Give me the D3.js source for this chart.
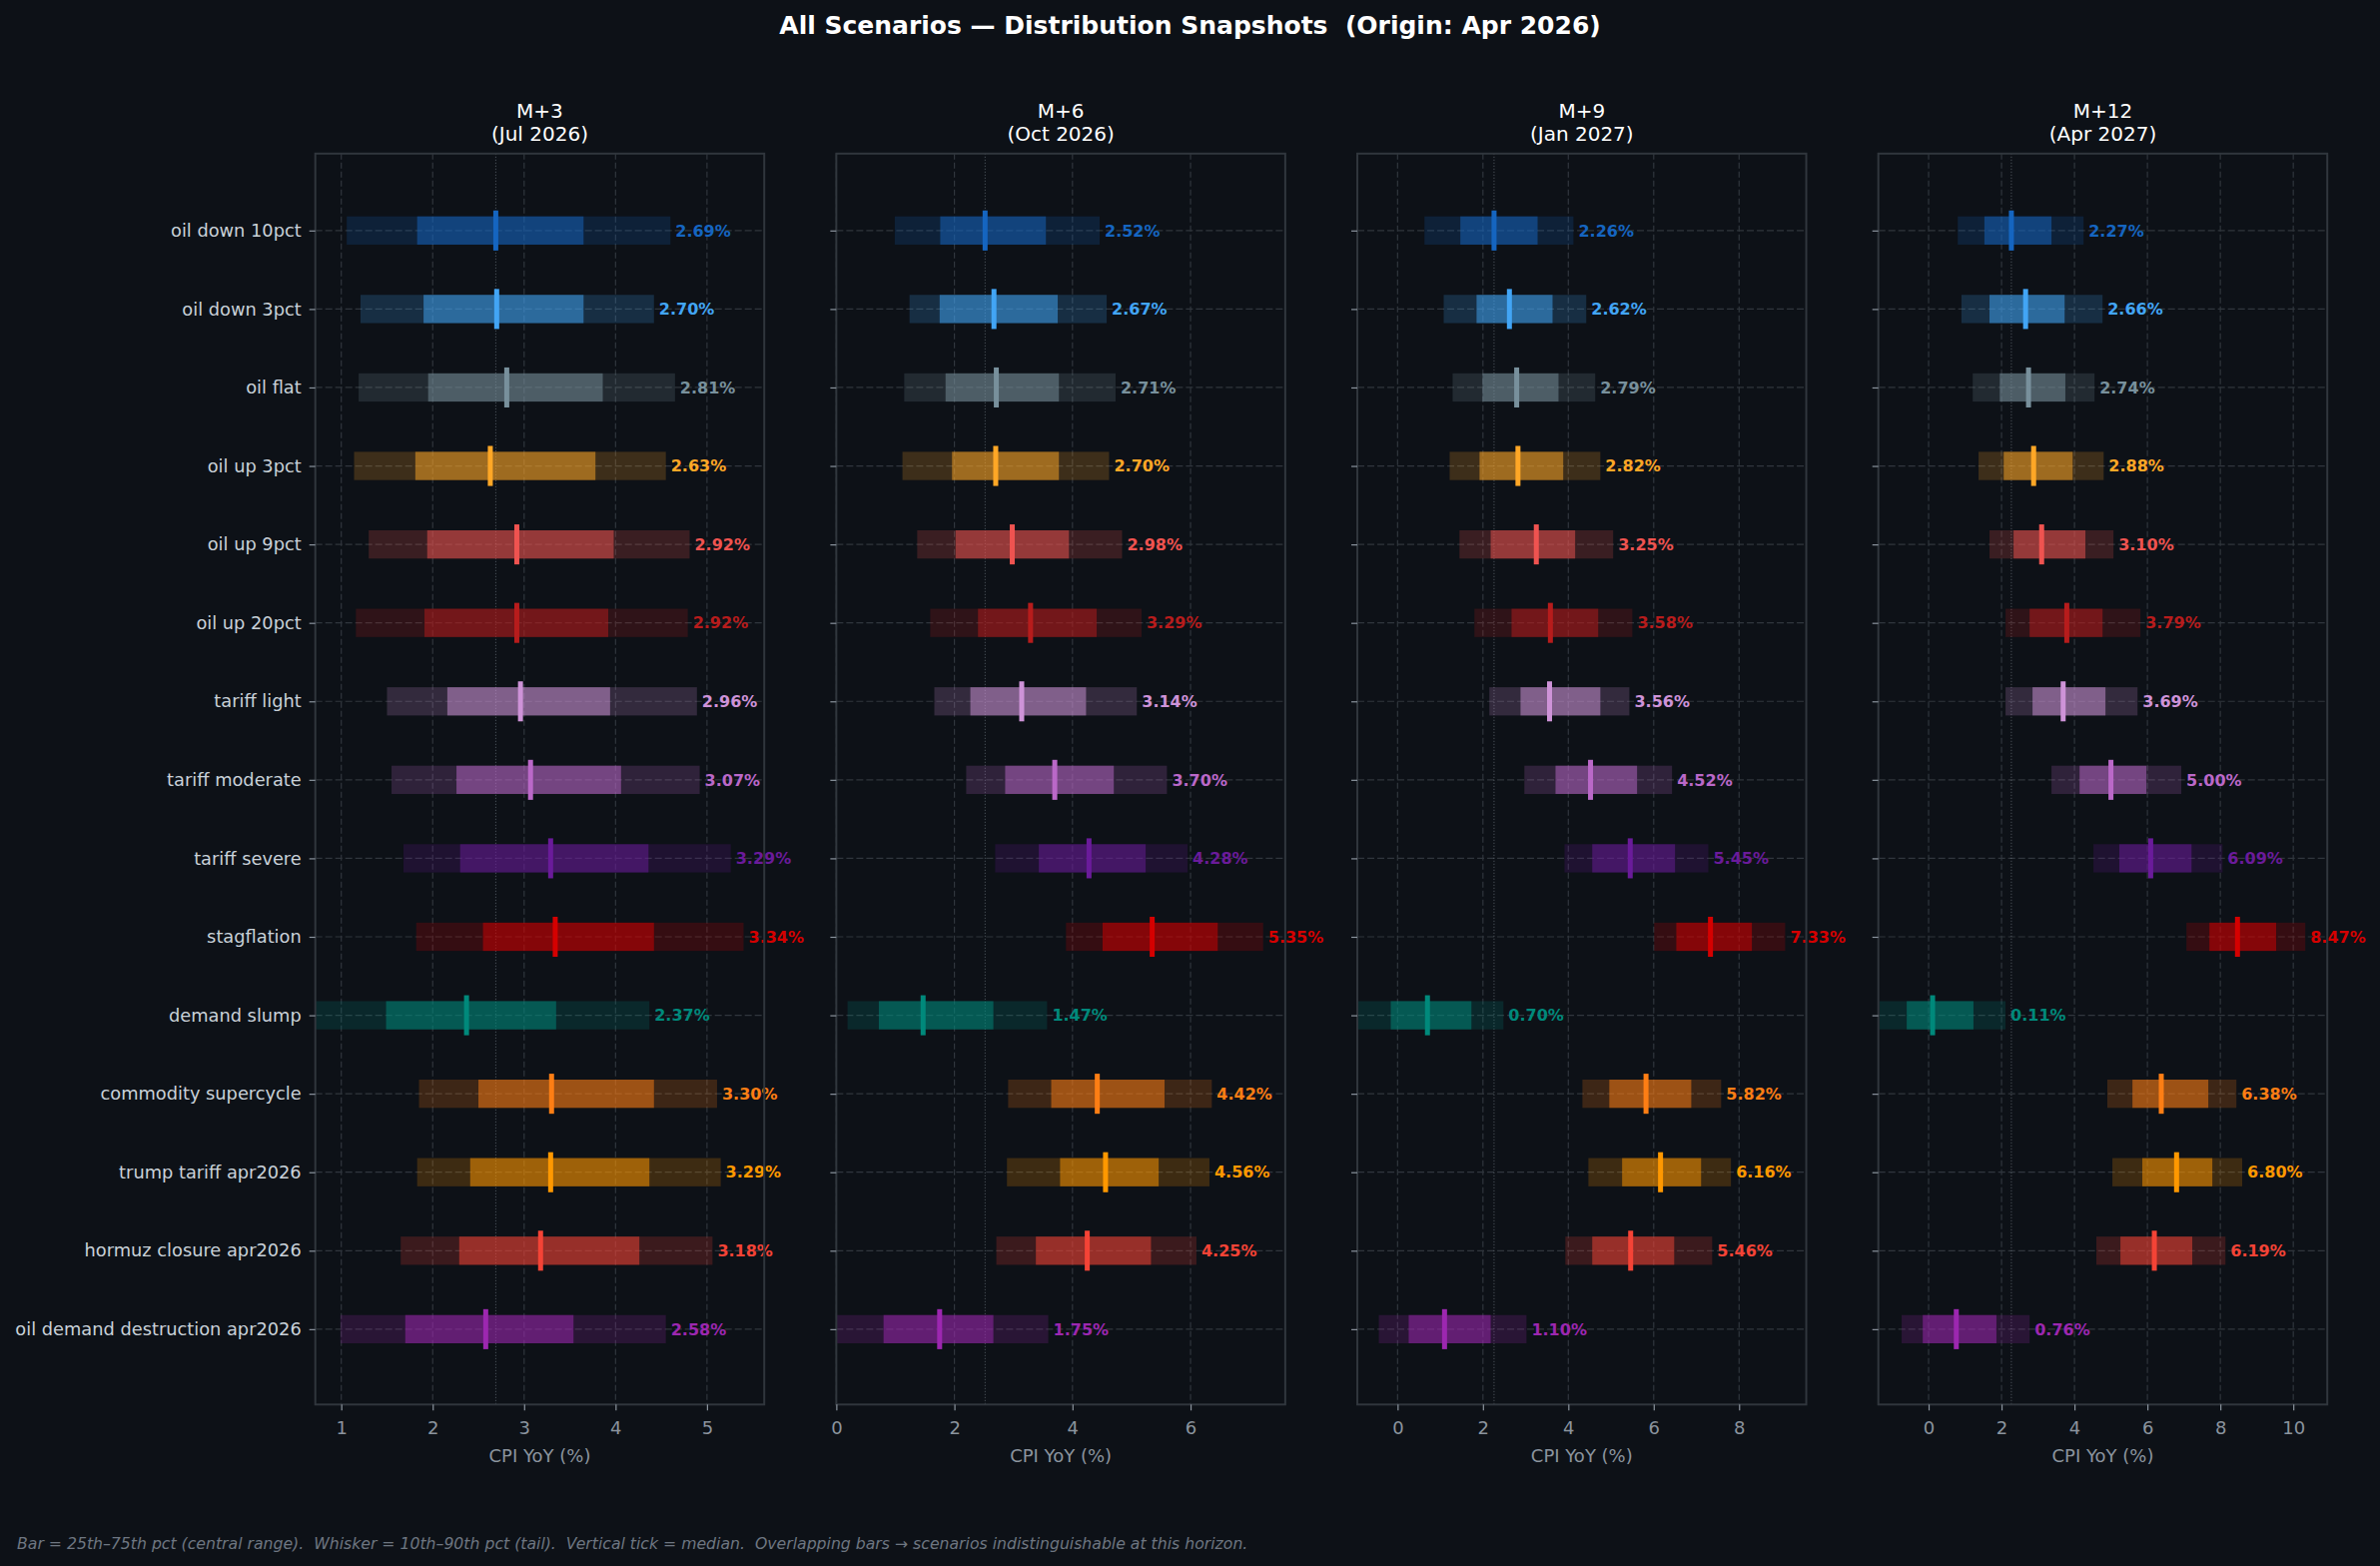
<!DOCTYPE html>
<html>
<head>
<meta charset="utf-8">
<script src="https://cdn.jsdelivr.net/npm/d3@7"></script>
<style>
  html, body { margin: 0; padding: 0; background: #0d1117; }
  svg { display: block; font-family: "DejaVu Sans", sans-serif; }
</style>
</head>
<body>
<svg id="chart"></svg>
<script>
// scenarios, top to bottom
const scenarios = [
  "oil down 10pct", "oil down 3pct", "oil flat", "oil up 3pct", "oil up 9pct",
  "oil up 20pct", "tariff light", "tariff moderate", "tariff severe", "stagflation",
  "demand slump", "commodity supercycle", "trump tariff apr2026",
  "hormuz closure apr2026", "oil demand destruction apr2026"
];
const colors = [
  "#1565c0", "#42a5f5", "#78909c", "#ffa726", "#ef5350",
  "#b71c1c", "#ce93d8", "#ba68c8", "#6a1b9a", "#d50000",
  "#00897b", "#fd7e14", "#ff9800", "#f44336", "#9c27b0"
];

const horizons = ["M+3", "M+6", "M+9", "M+12"];
const horizonDates = ["Jul 2026", "Oct 2026", "Jan 2027", "Apr 2027"];
const xTicks = [[1, 2, 3, 4, 5], [0, 2, 4, 6], [0, 2, 4, 6, 8], [0, 2, 4, 6, 8, 10]];
const xDomains = [[0.716, 5.626], [0, 7.604], [-0.943, 9.574], [-1.378, 10.932]];

// one row per horizon, one value per scenario
const median = [
  [2.69, 2.70, 2.81, 2.63, 2.92, 2.92, 2.96, 3.07, 3.29, 3.34, 2.37, 3.30, 3.29, 3.18, 2.58],
  [2.52, 2.67, 2.71, 2.70, 2.98, 3.29, 3.14, 3.70, 4.28, 5.35, 1.47, 4.42, 4.56, 4.25, 1.75],
  [2.26, 2.62, 2.79, 2.82, 3.25, 3.58, 3.56, 4.52, 5.45, 7.33, 0.70, 5.82, 6.16, 5.46, 1.10],
  [2.27, 2.66, 2.74, 2.88, 3.10, 3.79, 3.69, 5.00, 6.09, 8.47, 0.11, 6.38, 6.80, 6.19, 0.76]
];
const p10 = [
  [1.06, 1.21, 1.19, 1.14, 1.30, 1.16, 1.50, 1.55, 1.68, 1.82, 0.72, 1.85, 1.83, 1.65, 0.99],
  [0.99, 1.24, 1.15, 1.12, 1.37, 1.59, 1.66, 2.20, 2.69, 3.89, 0.19, 2.91, 2.89, 2.71, 0.00],
  [0.63, 1.08, 1.29, 1.22, 1.45, 1.80, 2.15, 2.97, 3.91, 6.01, -0.93, 4.33, 4.47, 3.93, -0.44],
  [0.80, 0.90, 1.21, 1.37, 1.67, 2.11, 2.11, 3.37, 4.52, 7.07, -1.35, 4.90, 5.04, 4.60, -0.74]
];
const p25 = [
  [1.83, 1.90, 1.95, 1.81, 1.94, 1.91, 2.16, 2.26, 2.30, 2.55, 1.49, 2.50, 2.41, 2.29, 1.70],
  [1.76, 1.75, 1.85, 1.96, 2.02, 2.40, 2.27, 2.86, 3.43, 4.51, 0.72, 3.64, 3.79, 3.38, 0.80],
  [1.47, 1.85, 1.99, 1.92, 2.18, 2.67, 2.88, 3.70, 4.56, 6.53, -0.16, 4.96, 5.26, 4.56, 0.26],
  [1.53, 1.67, 1.95, 2.06, 2.33, 2.77, 2.85, 4.14, 5.23, 7.70, -0.60, 5.59, 5.86, 5.26, -0.16]
];
const p75 = [
  [3.65, 3.65, 3.86, 3.78, 3.98, 3.92, 3.94, 4.06, 4.36, 4.42, 3.35, 4.42, 4.37, 4.26, 3.54],
  [3.55, 3.75, 3.77, 3.77, 3.94, 4.41, 4.23, 4.70, 5.24, 6.46, 2.66, 5.56, 5.46, 5.33, 2.66],
  [3.28, 3.63, 3.77, 3.88, 4.16, 4.70, 4.75, 5.61, 6.50, 8.30, 1.73, 6.88, 7.11, 6.48, 2.18],
  [3.37, 3.73, 3.75, 3.95, 4.30, 4.77, 4.85, 5.97, 7.21, 9.53, 1.23, 7.67, 7.78, 7.23, 1.86]
];
const p90 = [
  [4.60, 4.42, 4.65, 4.55, 4.81, 4.79, 4.89, 4.92, 5.26, 5.40, 4.37, 5.11, 5.15, 5.06, 4.55],
  [4.46, 4.58, 4.73, 4.62, 4.84, 5.17, 5.09, 5.60, 5.95, 7.23, 3.57, 6.36, 6.32, 6.10, 3.59],
  [4.12, 4.42, 4.63, 4.75, 5.05, 5.50, 5.43, 6.43, 7.28, 9.08, 2.48, 7.58, 7.81, 7.37, 3.02],
  [4.25, 4.77, 4.55, 4.80, 5.07, 5.81, 5.73, 6.93, 8.06, 10.33, 2.11, 8.44, 8.60, 8.14, 2.77]
];

const BG = "#0d1117";
const EDGE = "#30363d";
const MUTED = "#8b949e";

const W = 2383, H = 1568;
const left0 = 315.7, pitch = 521.67, pw = 449.5;
const plotTop = 153.8, plotBottom = 1406.3;

const svg = d3.select("#chart").attr("width", W).attr("height", H);
svg.append("rect").attr("width", W).attr("height", H).attr("fill", BG);

// main title
svg.append("text")
  .attr("x", W / 2).attr("y", 34)
  .attr("text-anchor", "middle")
  .attr("font-size", 25).attr("font-weight", "bold")
  .attr("fill", "#ffffff")
  .style("white-space", "pre")
  .text("All Scenarios \u2014 Distribution Snapshots  (Origin: Apr 2026)");

const y = d3.scaleLinear().domain([-0.98, 14.96]).range([plotTop, plotBottom]);
const rows = d3.range(scenarios.length);
const halfBar = 0.18, halfTick = 0.255;

horizons.forEach((h, k) => {
  const x0 = left0 + k * pitch;
  const x = d3.scaleLinear().domain(xDomains[k]).range([x0, x0 + pw]);
  const g = svg.append("g");

  g.append("clipPath").attr("id", "clip" + k)
    .append("rect").attr("x", x0).attr("y", plotTop).attr("width", pw).attr("height", plotBottom - plotTop);

  // grid
  g.selectAll(".vgrid").data(xTicks[k]).join("line")
    .attr("x1", d => x(d)).attr("x2", d => x(d))
    .attr("y1", plotTop).attr("y2", plotBottom)
    .attr("stroke", EDGE).attr("stroke-width", 1.2).attr("stroke-dasharray", "6,3");
  g.selectAll(".hgrid").data(rows).join("line")
    .attr("x1", x0).attr("x2", x0 + pw)
    .attr("y1", d => y(d)).attr("y2", d => y(d))
    .attr("stroke", EDGE).attr("stroke-width", 1.2).attr("stroke-dasharray", "7,3");

  // reference line at first scenario median
  g.append("line")
    .attr("x1", x(median[k][0])).attr("x2", x(median[k][0]))
    .attr("y1", plotTop).attr("y2", plotBottom)
    .attr("stroke", MUTED).attr("stroke-opacity", 0.6).attr("stroke-width", 1)
    .attr("stroke-dasharray", "1,2");

  const bars = g.append("g").attr("clip-path", `url(#clip${k})`);

  // whiskers 10-90
  bars.selectAll(".whisker").data(rows).join("rect")
    .attr("x", i => x(p10[k][i]))
    .attr("width", i => x(p90[k][i]) - x(p10[k][i]))
    .attr("y", i => y(i - halfBar))
    .attr("height", i => y(i + halfBar) - y(i - halfBar))
    .attr("fill", i => colors[i]).attr("fill-opacity", 0.2);

  // central range 25-75
  bars.selectAll(".iqr").data(rows).join("rect")
    .attr("x", i => x(p25[k][i]))
    .attr("width", i => x(p75[k][i]) - x(p25[k][i]))
    .attr("y", i => y(i - halfBar))
    .attr("height", i => y(i + halfBar) - y(i - halfBar))
    .attr("fill", i => colors[i]).attr("fill-opacity", 0.5);

  // median ticks
  bars.selectAll(".med").data(rows).join("rect")
    .attr("x", i => x(median[k][i]) - 2.5)
    .attr("width", 5)
    .attr("y", i => y(i - halfTick))
    .attr("height", i => y(i + halfTick) - y(i - halfTick))
    .attr("fill", i => colors[i]);

  // value labels
  g.selectAll(".val").data(rows).join("text")
    .attr("x", i => x(p90[k][i]) + 5)
    .attr("y", i => y(i))
    .attr("dy", "0.36em")
    .attr("font-size", 16).attr("font-weight", "bold")
    .attr("fill", i => colors[i])
    .text(i => median[k][i].toFixed(2) + "%");

  // frame
  g.append("rect")
    .attr("x", x0).attr("y", plotTop).attr("width", pw).attr("height", plotBottom - plotTop)
    .attr("fill", "none").attr("stroke", EDGE).attr("stroke-width", 2);

  // axes
  const xAxis = g.append("g")
    .attr("transform", `translate(0,${plotBottom})`)
    .call(d3.axisBottom(x).tickValues(xTicks[k]).tickSize(6).tickPadding(11).tickFormat(d3.format("d")));
  xAxis.select(".domain").remove();
  xAxis.selectAll("line").attr("stroke", MUTED).attr("stroke-width", 1.2);
  xAxis.selectAll("text").attr("fill", MUTED).attr("font-size", 18)
    .attr("font-family", "DejaVu Sans, sans-serif");

  const yAxis = g.append("g")
    .attr("transform", `translate(${x0},0)`)
    .call(d3.axisLeft(y).tickValues(rows).tickSize(6).tickPadding(8)
      .tickFormat(i => k === 0 ? scenarios[i] : ""));
  yAxis.select(".domain").remove();
  yAxis.selectAll("line").attr("stroke", MUTED).attr("stroke-width", 1.2);
  yAxis.selectAll("text").attr("fill", "#c9d1d9").attr("font-size", 17.8)
    .attr("font-family", "DejaVu Sans, sans-serif");

  // axis label
  g.append("text")
    .attr("x", x0 + pw / 2).attr("y", 1464)
    .attr("text-anchor", "middle")
    .attr("font-size", 18).attr("fill", MUTED)
    .text("CPI YoY (%)");

  // panel title
  const t = g.append("text")
    .attr("text-anchor", "middle")
    .attr("font-size", 20).attr("fill", "#ffffff");
  t.append("tspan").attr("x", x0 + pw / 2).attr("y", 118).text(h);
  t.append("tspan").attr("x", x0 + pw / 2).attr("y", 141).text(`(${horizonDates[k]})`);
});

// footnote
svg.append("text")
  .attr("x", 17).attr("y", 1551)
  .attr("font-size", 15.7).attr("font-style", "italic")
  .attr("fill", "#6e7681")
  .style("white-space", "pre")
  .text("Bar = 25th\u201375th pct (central range).  Whisker = 10th\u201390th pct (tail).  Vertical tick = median.  Overlapping bars \u2192 scenarios indistinguishable at this horizon.");
</script>
</body>
</html>
